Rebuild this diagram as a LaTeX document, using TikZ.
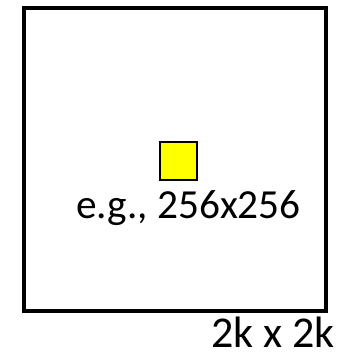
\documentclass[tikz,border=0pt]{standalone}
\usepackage{fontspec}
\setmainfont{Carlito}
\definecolor{patchyellow}{RGB}{255,255,0}

\begin{document}
\begin{tikzpicture}[x=0.75pt,y=0.75pt,yscale=-1,xscale=1]
\useasboundingbox (0,0) rectangle (344,354);

%Shape: Square [id:canvas]
\node (canvas) [draw, line width=2.6, minimum width=302*0.75pt, minimum height=303*0.75pt, inner sep=0pt] at (175,159.5) {};
%Shape: Square [id:patch]
\node (patch) [draw, fill=patchyellow, line width=2.2, minimum width=37*0.75pt, minimum height=38*0.75pt, inner sep=0pt] at (178.5,161) {};

% Text Node
\node (patchlabel) [anchor=base, inner sep=0pt, font=\fontsize{31}{37}\selectfont] at (188.5,218) {e.g., 256x256};
% Text Node
\node (canvaslabel) [anchor=base, inner sep=0pt, text depth=0pt, font=\fontsize{33}{40}\selectfont] at (273,347) {2k x 2k};

\end{tikzpicture}
\end{document}
